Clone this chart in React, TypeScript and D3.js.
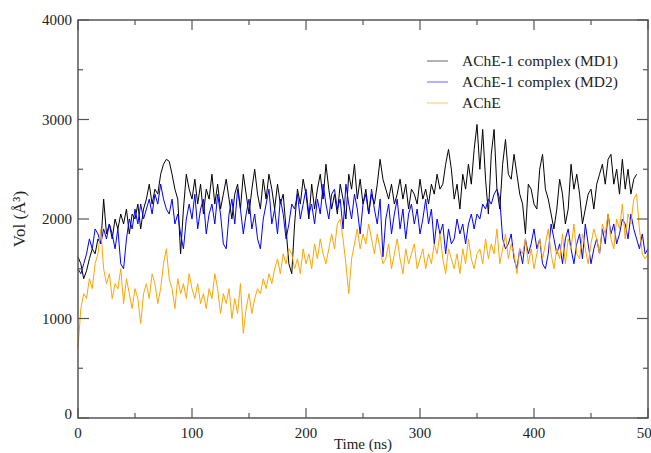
import React from 'react';
import * as d3 from 'd3';

// sampled every 2.5 ns, values in Å³
const STEP = 2.5;

const md1 = [
  1620, 1550, 1400, 1480, 1600, 1700, 1650, 1800, 1750, 2200, 1850, 1950,
  1800, 2000, 1900, 2050, 1950, 2100, 1850, 2050, 2000, 2150, 1900, 2100,
  2200, 2350, 2150, 2300, 2250, 2450, 2550, 2600, 2580, 2450, 2300, 2200,
  1650, 2100, 2450, 2300, 2200, 2400, 2150, 2350, 2050, 2300, 2200, 2450,
  2150, 2350, 2100, 2250, 2400, 2200, 2000, 2250, 2350, 2100, 2450, 2250,
  2050, 2300, 2500, 2250, 2100, 2400, 2200, 2450, 2300, 2100, 2350, 2150,
  2250, 1900, 1550, 1450, 1950, 2300, 2150, 2400, 2250, 2000, 2350, 2100,
  2300, 2450, 2200, 2550, 2300, 2100, 2250, 2050, 2350, 2200, 2000, 2450,
  2300, 2550, 2200, 2400, 2150, 2300, 2050, 2250, 2150, 2350, 2600, 2400,
  2300, 2200, 2350, 2150, 2250, 2400, 2200, 2350, 2100, 2300, 2250, 2150,
  2400, 2200, 2300, 2150, 2350, 2250, 2450, 2300, 2350, 2550, 2700, 2500,
  2200, 2350, 2100, 2450, 2300, 2550, 2350, 2700, 2950, 2500, 2900, 2400,
  2050, 2650, 2900, 2300, 2100, 2550, 2800, 2450, 2400, 2650, 2450, 2250,
  2150, 1850, 2350, 2300, 2150, 2100, 2500, 2650, 2300, 2200, 2050, 1900,
  2100, 2400, 2250, 1950, 2100, 2550, 2300, 2450, 2250, 1950, 2100, 2250,
  2300, 2100, 2350, 2450, 2550, 2350, 2600, 2650, 2350, 2500, 2250, 2600,
  2300, 2500, 2250, 2400, 2450,
];

const md2 = [
  1500, 1450, 1550, 1650, 1800, 1700, 1900, 1850, 1750, 1900, 1800, 1950,
  1850, 1700, 1900, 1550, 1500, 1800, 2000, 1900, 2100, 1950, 2150, 2000,
  2100, 2200, 2050, 2250, 2150, 2350, 2200, 2100, 2050, 2200, 1950, 2050,
  1850, 1700, 2000, 2150, 2000, 2250, 1900, 2100, 2200, 1850, 2050, 2150,
  1950, 2250, 2050, 1750, 1700, 2050, 2200, 1950, 2300, 2100, 1850, 2050,
  2200, 1900, 2050, 1800, 1700, 2000, 2150, 2300, 1950, 2100, 1850, 2200,
  2050, 1800, 1950, 2150, 2100, 2250, 2000, 2150, 2300, 2050, 2150, 1950,
  2200, 2050, 2350, 2150, 2000, 2250, 2300, 2100, 2200, 1900, 2350, 2150,
  2000, 2250, 2100, 1850, 2150, 2250, 2050, 2300, 2100, 1950, 2200, 1620,
  2000, 2150, 1850, 2050, 2200, 1900, 2100, 1800, 2050, 2150, 1950, 2100,
  1850, 2000, 2200, 1950, 2100, 1750, 2000, 1850, 1950, 1650, 1900, 1750,
  1800, 2000, 1850, 1950, 1750, 1950, 2050, 1900, 2050, 2000, 2150, 2100,
  2200, 2150, 2250, 2300, 2200, 1800, 1700, 1750, 1850, 1600, 1500, 1700,
  1550, 1800, 1650, 1750, 1900, 1700, 1800, 1550, 1500, 1650, 1950, 1800,
  1650, 1750, 1550, 1800, 1900, 1700, 1550, 1750, 1850, 1600, 1950, 1750,
  1550, 1700, 1800, 1650, 1900, 1750, 2050, 1850, 1950, 1750, 1850, 2000,
  1950, 1800, 2050, 1900, 1800, 1700, 1850, 1650, 1700,
];

const ache = [
  700, 1100, 1250, 1200, 1400, 1300, 1550, 1650, 1900, 1500, 1350, 1450,
  1200, 1350, 1300, 1500, 1150, 1400, 1250, 1100, 1300, 1200, 950, 1250,
  1350, 1200, 1450, 1350, 1150, 1300, 1550, 1700, 1400, 1300, 1100, 1400,
  1250, 1350, 1200, 1450, 1300, 1200, 1350, 1150, 1250, 1100, 1300, 1200,
  1450, 1300, 1050, 1250, 1150, 1300, 1000, 1200, 1050, 1350, 850, 1100,
  1250, 1050, 1200, 1300, 1250, 1400, 1300, 1450, 1350, 1500, 1600, 1450,
  1650, 1550, 1700, 1650, 1500, 1600, 1450, 1700, 1550, 1650, 1500, 1750,
  1600, 1800, 1650, 1550, 1700, 1850, 1700, 1950, 2000, 1800, 1550, 1250,
  1600, 1750, 1900, 1700, 1850, 1750, 1950, 1800, 1650, 1850, 1700, 1550,
  1600, 1750, 1500, 1650, 1800, 1600, 1450, 1700, 1550, 1650, 1750, 1500,
  1600, 1700, 1500, 1650, 1550, 1750, 1650, 1850, 1600, 1450, 1700, 1600,
  1500, 1650, 1450, 1700, 1550, 1800, 1600, 1500, 1650, 1700, 1550, 1800,
  1600, 1750, 1650, 1900, 1550, 1700, 1850, 1600, 1750, 1650, 1450, 1700,
  1650, 1800, 1550, 1700, 1500, 1650, 1800, 1600, 1750, 1900, 1650, 1500,
  1700, 1600, 1850, 1550, 1800, 1700, 1950, 1650, 1600, 1850, 1700, 1550,
  1750, 1900, 1800, 1650, 1950, 1850, 2050, 1800, 1700, 2000, 1900, 2150,
  1800, 2050, 1950, 2200, 2250, 1900, 1650, 1600, 1650,
];

const series = [
  { name: 'AChE-1 complex (MD1)', values: md1, color: '#000000' },
  { name: 'AChE-1 complex (MD2)', values: md2, color: '#0000ff' },
  { name: 'AChE', values: ache, color: '#ffa500' },
];

const xTicks = [0, 100, 200, 300, 400, 500];
const yTicks = [0, 1000, 2000, 3000, 4000];

const W = 651;
const H = 453;
const m = { left: 78, right: 3, top: 20, bottom: 35 };
const font = '"Liberation Serif", "DejaVu Serif", serif';

export default function App() {
  const x = d3.scaleLinear().domain([0, 500]).range([m.left, W - m.right]);
  const y = d3.scaleLinear().domain([0, 4000]).range([H - m.bottom, m.top]);

  const line = d3.line<number>()
    .x((_, i) => x(i * STEP))
    .y(d => y(d));

  const minorX = d3.range(50, 500, 100);
  const minorY = d3.range(500, 4000, 1000);
  const axisColor = '#555';

  return (
    <div style={{ position: 'absolute', left: 0, top: 0 }}>
      <svg width={W} height={H} style={{ display: 'block', background: '#fff' }}>
        {/* data lines */}
        {series.map(s => (
          <path key={s.name} d={line(s.values) || ''} fill="none" stroke={s.color} strokeWidth={1} />
        ))}

        {/* frame */}
        <rect x={x(0)} y={y(4000)} width={x(500) - x(0)} height={y(0) - y(4000)}
          fill="none" stroke={axisColor} strokeWidth={1.5} />

        {/* x ticks, inward on bottom and top */}
        {xTicks.map(t => (
          <g key={'xt' + t}>
            <line x1={x(t)} x2={x(t)} y1={y(0)} y2={y(0) - 10} stroke={axisColor} strokeWidth={1.2} />
            <line x1={x(t)} x2={x(t)} y1={y(4000)} y2={y(4000) + 10} stroke={axisColor} strokeWidth={1.2} />
            <text x={x(t)} y={y(0) + 20} textAnchor="middle" fontFamily={font} fontSize={15} fill="#222">{t}</text>
          </g>
        ))}
        {minorX.map(t => (
          <g key={'xm' + t}>
            <line x1={x(t)} x2={x(t)} y1={y(0)} y2={y(0) - 5} stroke={axisColor} strokeWidth={1.2} />
            <line x1={x(t)} x2={x(t)} y1={y(4000)} y2={y(4000) + 5} stroke={axisColor} strokeWidth={1.2} />
          </g>
        ))}

        {/* y ticks, inward on left and right */}
        {yTicks.map(t => (
          <g key={'yt' + t}>
            <line x1={x(0)} x2={x(0) + 11} y1={y(t)} y2={y(t)} stroke={axisColor} strokeWidth={1.2} />
            <line x1={x(500)} x2={x(500) - 11} y1={y(t)} y2={y(t)} stroke={axisColor} strokeWidth={1.2} />
            <text x={x(0) - 6} y={y(t) + (t === 0 ? 1 : 5)} textAnchor="end" fontFamily={font} fontSize={15} fill="#222">{t}</text>
          </g>
        ))}
        {minorY.map(t => (
          <g key={'ym' + t}>
            <line x1={x(0)} x2={x(0) + 5} y1={y(t)} y2={y(t)} stroke={axisColor} strokeWidth={1.2} />
            <line x1={x(500)} x2={x(500) - 5} y1={y(t)} y2={y(t)} stroke={axisColor} strokeWidth={1.2} />
          </g>
        ))}

        {/* axis titles */}
        <text x={(x(0) + x(500)) / 2} y={449} textAnchor="middle" fontFamily={font} fontSize={15} fill="#222">Time (ns)</text>
        <text transform={`translate(25,${(y(0) + y(4000)) / 2}) rotate(-90)`} textAnchor="middle"
          fontFamily={font} fontSize={17} fill="#222">Vol (Å³)</text>

        {/* legend */}
        {series.map((s, i) => (
          <g key={'lg' + s.name} transform={`translate(427,${61 + i * 21})`}>
            <line x1={0} x2={21} y1={0} y2={0} stroke={s.color} strokeWidth={1} opacity={0.6} />
            <text x={35} y={5} fontFamily={font} fontSize={15.5} fill="#222">{s.name}</text>
          </g>
        ))}
      </svg>
    </div>
  );
}
